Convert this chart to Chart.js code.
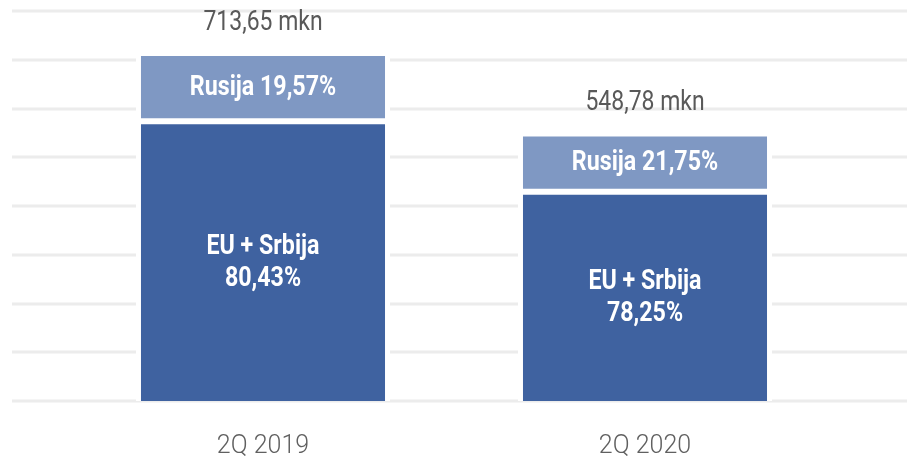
<!DOCTYPE html>
<html>
<head>
<meta charset="utf-8">
<script src="https://cdn.jsdelivr.net/npm/chart.js@4.4.1/dist/chart.umd.min.js"></script>
<style>
  html, body { margin: 0; padding: 0; background: #fff; }
  .chart__box { position: relative; width: 912px; height: 462px; }
</style>
</head>
<body>
<div class="chart__box"><canvas id="chart"></canvas></div>
<script>
const categories = ["2Q 2019", "2Q 2020"];
const totals = [713.65, 548.78];
const euValues = [573.99, 429.42];
const russiaValues = [139.66, 119.36];
const euShare = ["80,43%", "78,25%"];
const russiaShare = ["19,57%", "21,75%"];
const yTicks = [0, 100, 200, 300, 400, 500, 600, 700, 800];

// gridlines run wider than the plot area, so draw them ourselves from the y scale
const wideGrid = {
  id: "wideGrid",
  beforeDatasetsDraw(chart) {
    const ctx = chart.ctx;
    const y = chart.scales.y;
    ctx.save();
    ctx.strokeStyle = "#ececec";
    ctx.lineWidth = 3;
    y.ticks.forEach((t) => {
      const py = Math.round(y.getPixelForValue(t.value));
      ctx.beginPath();
      ctx.moveTo(12, py);
      ctx.lineTo(907, py);
      ctx.stroke();
    });
    ctx.restore();
  },
};

function condensedText(ctx, text, x, y, sx) {
  ctx.save();
  ctx.translate(x, y);
  ctx.scale(sx, 1);
  ctx.fillText(text, 0, 0);
  ctx.restore();
}

const barLabels = {
  id: "barLabels",
  afterDatasetsDraw(chart) {
    const ctx = chart.ctx;
    ctx.save();
    ctx.textAlign = "center";
    ctx.textBaseline = "middle";
    const euMeta = chart.getDatasetMeta(0);
    const ruMeta = chart.getDatasetMeta(1);

    euMeta.data.forEach((el, i) => {
      const p = el.getProps(["x", "y", "base"], true);
      const cy = (p.y + p.base) / 2 + 2;
      ctx.fillStyle = "#ffffff";
      ctx.font = "bold 27px Roboto";
      condensedText(ctx, "EU + Srbija", p.x, cy - 16, 0.86);
      condensedText(ctx, euShare[i], p.x, cy + 16, 0.86);
    });

    ruMeta.data.forEach((el, i) => {
      const p = el.getProps(["x", "y", "base"], true);
      const cy = (p.y + p.base) / 2 + 1;
      ctx.fillStyle = "#ffffff";
      ctx.font = "bold 27px Roboto";
      condensedText(ctx, "Rusija " + russiaShare[i], p.x, cy, 0.86);

      ctx.fillStyle = "#595959";
      ctx.font = "27px Roboto";
      const total = totals[i].toFixed(2).replace(".", ",") + " mkn";
      condensedText(ctx, total, p.x, p.y - 30, 0.85);
    });
    ctx.restore();
  },
};

const chart = new Chart(document.getElementById("chart"), {
  type: "bar",
  data: {
    labels: categories,
    datasets: [
      {
        label: "EU + Srbija",
        data: euValues,
        backgroundColor: "#3f62a0",
        borderColor: "#ffffff",
        borderWidth: { top: 3, left: 5, right: 5, bottom: 0 },
      },
      {
        label: "Rusija",
        data: russiaValues,
        backgroundColor: "#7f98c3",
        borderColor: "#ffffff",
        borderWidth: { top: 3, left: 5, right: 5, bottom: 3 },
        borderSkipped: false,
      },
    ],
  },
  options: {
    responsive: true,
    maintainAspectRatio: false,
    animation: false,
    layout: { padding: { left: 72, right: 76, top: 11, bottom: 4 } },
    plugins: {
      legend: false,
      tooltip: { enabled: false },
    },
    datasets: {
      bar: { categoryPercentage: 1, barPercentage: 0.665 },
    },
    scales: {
      x: {
        stacked: true,
        grid: { display: false },
        border: { display: false },
        afterFit: (scale) => {
          scale.height = 57;
        },
        ticks: {
          color: "#606060",
          padding: 23,
          font: { family: "Roboto", size: 25, weight: "300" },
        },
      },
      y: {
        stacked: true,
        display: false,
        min: yTicks[0],
        max: yTicks[yTicks.length - 1],
        afterBuildTicks: (scale) => {
          scale.ticks = yTicks.map((v) => ({ value: v }));
        },
      },
    },
  },
  plugins: [wideGrid, barLabels],
});
</script>
</body>
</html>
